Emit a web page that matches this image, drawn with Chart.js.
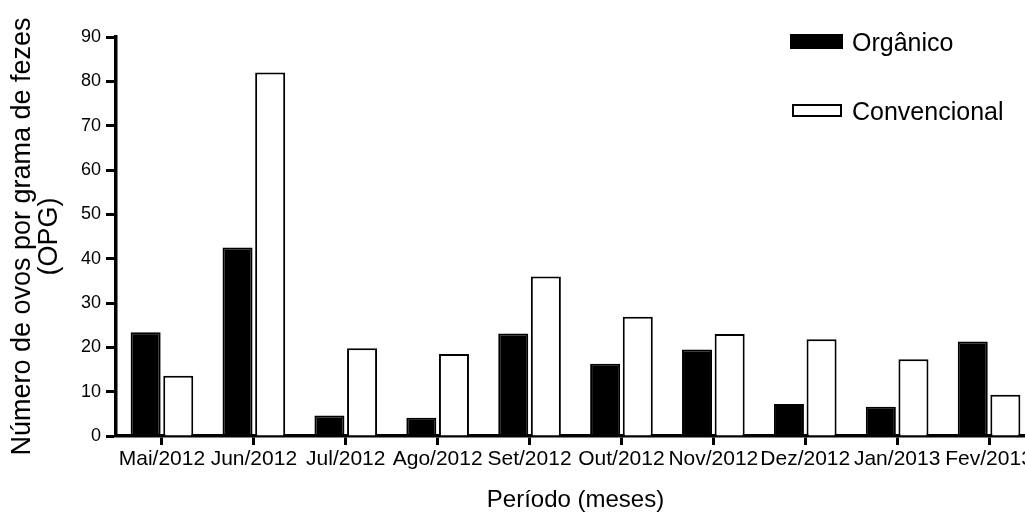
<!DOCTYPE html>
<html>
<head>
<meta charset="utf-8">
<script src="https://cdn.jsdelivr.net/npm/chart.js@4/dist/chart.umd.min.js"></script>
<style>
  html, body { margin: 0; padding: 0; background: #fff; overflow: hidden; }
  #wrap { width: 1040px; height: 515px; }
</style>
</head>
<body>
<div id="wrap"><canvas id="c" width="1040" height="515"></canvas></div>
<script>
// Monthly egg counts per gram of faeces (OPG)
const months = ['Mai/2012', 'Jun/2012', 'Jul/2012', 'Ago/2012', 'Set/2012',
                'Out/2012', 'Nov/2012', 'Dez/2012', 'Jan/2013', 'Fev/2013'];
const organico     = [23.4, 42.5, 4.6, 4.1, 23.1, 16.3, 19.5, 7.2, 6.6, 21.3];
const convencional = [13.6, 82.0, 19.8, 18.5, 36.0, 26.9, 23.0, 21.8, 17.3, 9.3];
const seriesNames  = ['Orgânico', 'Convencional'];
const yTicks       = [0, 10, 20, 30, 40, 50, 60, 70, 80, 90];

const FONT = '"Liberation Sans", Arial, Helvetica, sans-serif';

// Stacked legend in the upper-right corner, drawn from the dataset styles
const cornerLegend = {
  id: 'cornerLegend',
  afterDraw(chart) {
    const ctx = chart.ctx;
    const rows = [
      { box: [790, 34, 53, 15], textY: 44 },
      { box: [792, 104, 50, 13], textY: 113 }
    ];
    ctx.save();
    ctx.font = '25px ' + FONT;
    ctx.textBaseline = 'middle';
    ctx.textAlign = 'left';
    chart.data.datasets.forEach((ds, i) => {
      const [x, y, w, h] = rows[i].box;
      ctx.fillStyle = ds.backgroundColor;
      ctx.fillRect(x, y, w, h);
      ctx.lineWidth = 2;
      ctx.strokeStyle = ds.borderColor;
      ctx.strokeRect(x + 1, y + 1, w - 2, h - 2);
      ctx.fillStyle = '#000';
      ctx.fillText(ds.label, 852, rows[i].textY);
    });
    ctx.restore();
  }
};

new Chart(document.getElementById('c'), {
  type: 'bar',
  data: {
    labels: months,
    datasets: [
      {
        label: seriesNames[0],
        data: organico,
        backgroundColor: '#000',
        borderColor: '#000',
        borderWidth: 2
      },
      {
        label: seriesNames[1],
        data: convencional,
        backgroundColor: '#fff',
        borderColor: '#000',
        borderWidth: 2
      }
    ]
  },
  options: {
    responsive: false,
    animation: false,
    events: [],
    layout: { padding: { top: 37, right: 5, left: 0, bottom: 0 } },
    datasets: {
      bar: { categoryPercentage: 0.71, barPercentage: 0.92 }
    },
    plugins: {
      legend: { display: false },
      tooltip: { enabled: false }
    },
    scales: {
      x: {
        z: 1,
        afterFit: s => { s.height = 79; },
        border: { display: true, color: '#000', width: 3.5 },
        grid: {
          drawOnChartArea: false,
          drawTicks: true,
          tickLength: 9,
          tickWidth: 3,
          tickColor: '#000',
          offset: false
        },
        ticks: {
          autoSkip: false,
          maxRotation: 0,
          minRotation: 0,
          padding: 2,
          color: '#000',
          font: { family: FONT, size: 21 }
        },
        title: {
          display: true,
          text: 'Período (meses)',
          color: '#000',
          font: { family: FONT, size: 24 },
          padding: { top: 0, bottom: 0 }
        }
      },
      y: {
        min: 0,
        max: 90,
        afterFit: s => { s.width = 116; },
        afterBuildTicks: s => { s.ticks = yTicks.map(v => ({ value: v })); },
        border: { display: true, color: '#000', width: 3.5 },
        grid: {
          drawOnChartArea: false,
          drawTicks: true,
          tickLength: 10,
          tickWidth: 3,
          tickColor: '#000'
        },
        ticks: {
          padding: 5,
          color: '#000',
          font: { family: FONT, size: 18 }
        },
        title: {
          display: true,
          text: ['Número de ovos por grama de fezes', '(OPG)'],
          color: '#000',
          font: { family: FONT, size: 27, lineHeight: 1 },
          padding: { top: 9, bottom: 0 }
        }
      }
    }
  },
  plugins: [cornerLegend]
});
</script>
</body>
</html>
